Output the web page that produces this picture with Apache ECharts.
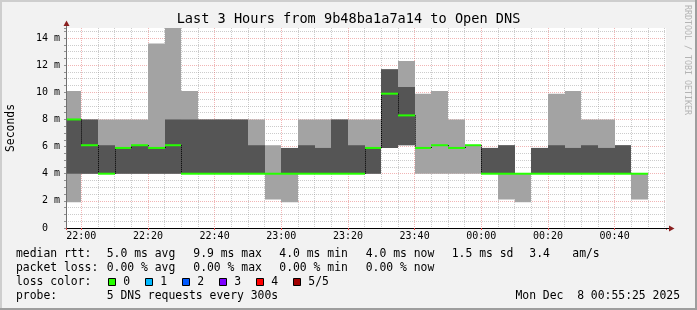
<!DOCTYPE html>
<html>
<head>
<meta charset="utf-8">
<script src="https://cdn.jsdelivr.net/npm/echarts@6/dist/echarts.min.js"></script>
<style>
html,body{margin:0;padding:0;background:#f2f2f2;overflow:hidden;}
#chart{width:697px;height:310px;}
</style>
</head>
<body>
<div id="chart"></div>
<script>
// ---------------- data ----------------
const titleText = 'Last 3 Hours from 9b48ba1a7a14 to Open DNS';
const xStart = '21:55:25';
const xEnd = '00:55:25';
const stepMinutes = 5;
// end time of every 5-minute RRD slot
const slotEnd = ['22:00','22:05','22:10','22:15','22:20','22:25','22:30','22:35','22:40','22:45','22:50','22:55',
  '23:00','23:05','23:10','23:15','23:20','23:25','23:30','23:35','23:40','23:45','23:50','23:55',
  '00:00','00:05','00:10','00:15','00:20','00:25','00:30','00:35','00:40','00:45','00:50'];
// sorted pings (ms): lowest, 2nd, median, 4th, highest
const pingMin   = [1.9,4,4,4,4,4,4,4,4,4,4,4, 2.1,1.9,4,4,4,4,4,5.9,6.1,4,4,4, 4,4,2.1,1.9,4,4,4,4,4,4,2.1];
const pingLowQ  = [4,4,4,4,4,4,4,4,4,4,4,4, 4,4,4,4,4,4,4,5.9,6.1,5.9,6.1,5.9, 6.1,4,4,4,4,4,4,4,4,4,4];
const medianRtt = [8,6.1,4,5.9,6.1,5.9,6.1,4,4,4,4,4, 4,4,4,4,4,4,5.9,9.9,8.3,5.9,6.1,5.9, 6.1,4,4,4,4,4,4,4,4,4,4];
const pingHighQ = [8,8,6.1,5.9,6.1,5.9,8,8,8,8,8,6.1, 4,5.9,6.1,5.9,8,6.1,5.9,11.7,10.4,5.9,6.1,5.9, 6.1,5.9,6.1,4,5.9,6.1,5.9,6.1,5.9,6.1,4];
const pingMax   = [10.1,8,8,8,8,13.6,14.8,10.1,8,8,8,8, 6.1,5.9,8,8,8,8,8,11.7,12.3,9.9,10.1,8, 6.1,5.9,6.1,4,5.9,9.9,10.1,8,8,6.1,4];
const yMaxValue = 14.74;
const yLabelStep = 2;
const xLabelStep = 20;

const statsRtt  = ['median rtt:', '5.0 ms avg', '9.9 ms max', '4.0 ms min', '4.0 ms now', '1.5 ms sd', '3.4', 'am/s'];
const statsLoss = ['packet loss:', '0.00 % avg', '0.00 % max', '0.00 % min', '0.00 % now'];
const lossLabel = 'loss color:';
const lossNames = ['0','1','2','3','4','5/5'];
const lossColors = ['#26ff00','#00b8ff','#0059ff','#7e00ff','#ff0000','#a10000'];
const probeLabel = 'probe:';
const probeText = '5 DNS requests every 300s';
const dateText = 'Mon Dec  8 00:55:25 2025';

// ---------------- helpers ----------------
const BASE_H = 21;
function toMin(t){
  const p = t.split(':').map(Number);
  let h = p[0]; if (h < BASE_H - 12) h += 24;
  return (h - BASE_H) * 60 + p[1] + (p[2] || 0) / 60;
}
function fmtHM(v){
  const tot = Math.round(BASE_H * 60 + v);
  const h = Math.floor(tot / 60) % 24, m = tot % 60;
  return (h < 10 ? '0' : '') + h + ':' + (m < 10 ? '0' : '') + m;
}
const isMult = (v, s) => Math.abs(v / s - Math.round(v / s)) < 1e-6;

const FONT = "'DejaVu Sans Mono', monospace";
const LIGHT = '#a3a3a3', DARK = '#555555', GREEN = '#26ff00';
const MINOR = 'rgba(143,143,143,0.45)', MAJOR = 'rgba(222,79,79,0.42)', NONE = 'rgba(0,0,0,0)';

const xMin = toMin(xStart), xMax = toMin(xEnd);

// grid-line colours per tick (ticks: min, multiples of 5, max)
const xGridTicks = [xMin];
for (let v = Math.ceil(xMin / stepMinutes) * stepMinutes; v <= xMax + 1e-9; v += stepMinutes) xGridTicks.push(v);
if (xGridTicks[xGridTicks.length - 1] < xMax) xGridTicks.push(xMax);
const xGridColors = xGridTicks.map((v, i) => (i === 0 || i === xGridTicks.length - 1) ? NONE : (isMult(v, xLabelStep) ? MAJOR : MINOR));

const yGridTicks = [];
for (let v = 0; v <= yMaxValue + 1e-9; v += 0.5) yGridTicks.push(v);
if (yGridTicks[yGridTicks.length - 1] < yMaxValue) yGridTicks.push(yMaxValue);
const yGridColors = yGridTicks.map((v, i) => (i === 0 || !isMult(v, 0.5)) ? NONE : (isMult(v, yLabelStep) ? MAJOR : MINOR));

const seriesData = slotEnd.map((t, i) => [toMin(t), pingMin[i], pingLowQ[i], medianRtt[i], pingHighQ[i], pingMax[i], i > 0 ? medianRtt[i - 1] : '-']);

function renderItem(params, api){
  const cs = params.coordSys;
  const end = api.value(0);
  const x1 = Math.round(api.coord([end, 0])[0]);
  const x0 = Math.max(Math.round(api.coord([end - stepMinutes, 0])[0]), cs.x);
  const Y = v => Math.max(api.coord([end, v])[1], cs.y);
  const yLo = Y(api.value(1)), yQ1 = Y(api.value(2)), yMed = Y(api.value(3)), yQ3 = Y(api.value(4)), yHi = Y(api.value(5));
  const prev = api.value(6);
  const ch = [
    {type:'rect', shape:{x:x0, y:yHi, width:x1 - x0, height:yLo - yHi}, style:{fill:LIGHT}},
    {type:'rect', shape:{x:x0, y:yQ3, width:x1 - x0, height:yQ1 - yQ3}, style:{fill:DARK}}
  ];
  if (!isNaN(prev)) {
    ch.push({type:'line', shape:{x1:x0 + 0.5, y1:Y(prev), x2:x0 + 0.5, y2:yMed}, style:{stroke:'#000', lineWidth:1, lineDash:[1,1]}});
  }
  ch.push({type:'line', shape:{x1:x0, y1:yMed, x2:x1, y2:yMed}, style:{stroke:GREEN, lineWidth:2}});
  return {type:'group', children:ch};
}

// ---------------- graphic text / decoration ----------------
const T = (x, y, text, o) => Object.assign({type:'text', x, y, z:10, silent:true,
  style:Object.assign({text, fill:'#000', fontFamily:FONT, fontSize:11.4, align:'left', verticalAlign:'middle'}, (o && o.style) || {})},
  o && o.rotation !== undefined ? {rotation:o.rotation} : {});

const graphics = [];
// frame shading
graphics.push({type:'rect', shape:{x:0, y:0, width:697, height:2}, style:{fill:'#cecece'}, z:1, silent:true});
graphics.push({type:'rect', shape:{x:0, y:0, width:2, height:310}, style:{fill:'#cecece'}, z:1, silent:true});
graphics.push({type:'rect', shape:{x:695, y:0, width:2, height:310}, style:{fill:'#9e9e9e'}, z:1, silent:true});
graphics.push({type:'rect', shape:{x:0, y:308, width:697, height:2}, style:{fill:'#9e9e9e'}, z:1, silent:true});
// title, axis name, watermark
graphics.push(T(348.5, 19.5, titleText, {style:{fontSize:13.6, align:'center'}}));
graphics.push(T(11, 128, 'Seconds', {rotation:Math.PI / 2, style:{fontSize:11.4, align:'center'}}));
graphics.push(T(687, 60, 'RRDTOOL / TOBI OETIKER', {rotation:-Math.PI / 2, style:{fontSize:8.3, align:'center', fill:'#b4b4b4'}}));
// axis arrows
graphics.push({type:'line', shape:{x1:66.5, y1:24, x2:66.5, y2:28}, style:{stroke:'#707070', lineWidth:1}, z:10, silent:true});
graphics.push({type:'polygon', shape:{points:[[66.5,20.5],[63.5,26],[69.5,26]]}, style:{fill:'#8a2020'}, z:11, silent:true});
graphics.push({type:'line', shape:{x1:666, y1:228.5, x2:670, y2:228.5}, style:{stroke:'#000', lineWidth:1}, z:10, silent:true});
graphics.push({type:'polygon', shape:{points:[[674.5,228.5],[669,225.5],[669,231.5]]}, style:{fill:'#8a2020'}, z:11, silent:true});
// legend
const colX = [16, 106.7, 193.3, 279.3, 365.7, 451.7, 529.3, 572.3];
statsRtt.forEach((s, i) => graphics.push(T(colX[i], 254.5, s)));
statsLoss.forEach((s, i) => graphics.push(T(colX[i], 268.5, s)));
graphics.push(T(16, 282.5, lossLabel));
lossNames.forEach((n, i) => {
  const bx = 108 + i * 37;
  graphics.push({type:'rect', shape:{x:bx + 0.5, y:278.5, width:7, height:7}, style:{fill:lossColors[i], stroke:'#000', lineWidth:1}, z:10, silent:true});
  graphics.push(T(bx + 15.3, 282.5, n));
});
graphics.push(T(16, 296.5, probeLabel));
graphics.push(T(106.7, 296.5, probeText));
graphics.push(T(680, 296.5, dateText, {style:{align:'right'}}));

const option = {
  animation:false,
  backgroundColor:'#f2f2f2',
  grid:{left:66, top:28, width:600, height:200, show:true, backgroundColor:'#ffffff', borderWidth:0, containLabel:false, outerBoundsMode:'none'},
  xAxis:[
    {type:'value', min:xMin, max:xMax, minInterval:xLabelStep, maxInterval:xLabelStep, z:5, position:'bottom',
     axisLine:{show:true, onZero:false, lineStyle:{color:'#000', width:1}},
     axisTick:{show:true, length:2, lineStyle:{color:'#de4f4f'}},
     axisLabel:{margin:3, fontFamily:FONT, fontSize:10, color:'#000', formatter:v => isMult(v, xLabelStep) ? fmtHM(v) : ''},
     splitLine:{show:false}},
    {type:'value', min:xMin, max:xMax, minInterval:stepMinutes, maxInterval:stepMinutes, position:'top',
     axisLine:{show:false}, axisTick:{show:false}, axisLabel:{show:false},
     splitLine:{show:true, lineStyle:{color:xGridColors, width:1, type:[1,1]}}}
  ],
  yAxis:[
    {type:'value', min:0, max:yMaxValue, interval:0.5, z:5, position:'left',
     axisLine:{show:true, onZero:false, lineStyle:{color:'#707070', width:1}},
     axisTick:{show:true, length:2, lineStyle:{color:'#909090'}},
     axisLabel:{margin:6, fontFamily:FONT, fontSize:10, color:'#000',
       formatter:v => (isMult(v, yLabelStep) && v <= yMaxValue - 0.5) ? (v === 0 ? '0  ' : Math.round(v) + ' m') : ''},
     splitLine:{show:false}},
    {type:'value', min:0, max:yMaxValue, interval:0.5, position:'right',
     axisLine:{show:false}, axisTick:{show:false}, axisLabel:{show:false},
     splitLine:{show:true, lineStyle:{color:yGridColors, width:1, type:[1,1]}}}
  ],
  graphic:graphics,
  series:[{
    type:'custom', xAxisIndex:0, yAxisIndex:0, renderItem, data:seriesData,
    encode:{x:0, y:[1,5]}, z:2, silent:true
  }]
};
const chart = echarts.init(document.getElementById('chart'), null, {renderer:'canvas'});
chart.setOption(option);
</script>
</body>
</html>
